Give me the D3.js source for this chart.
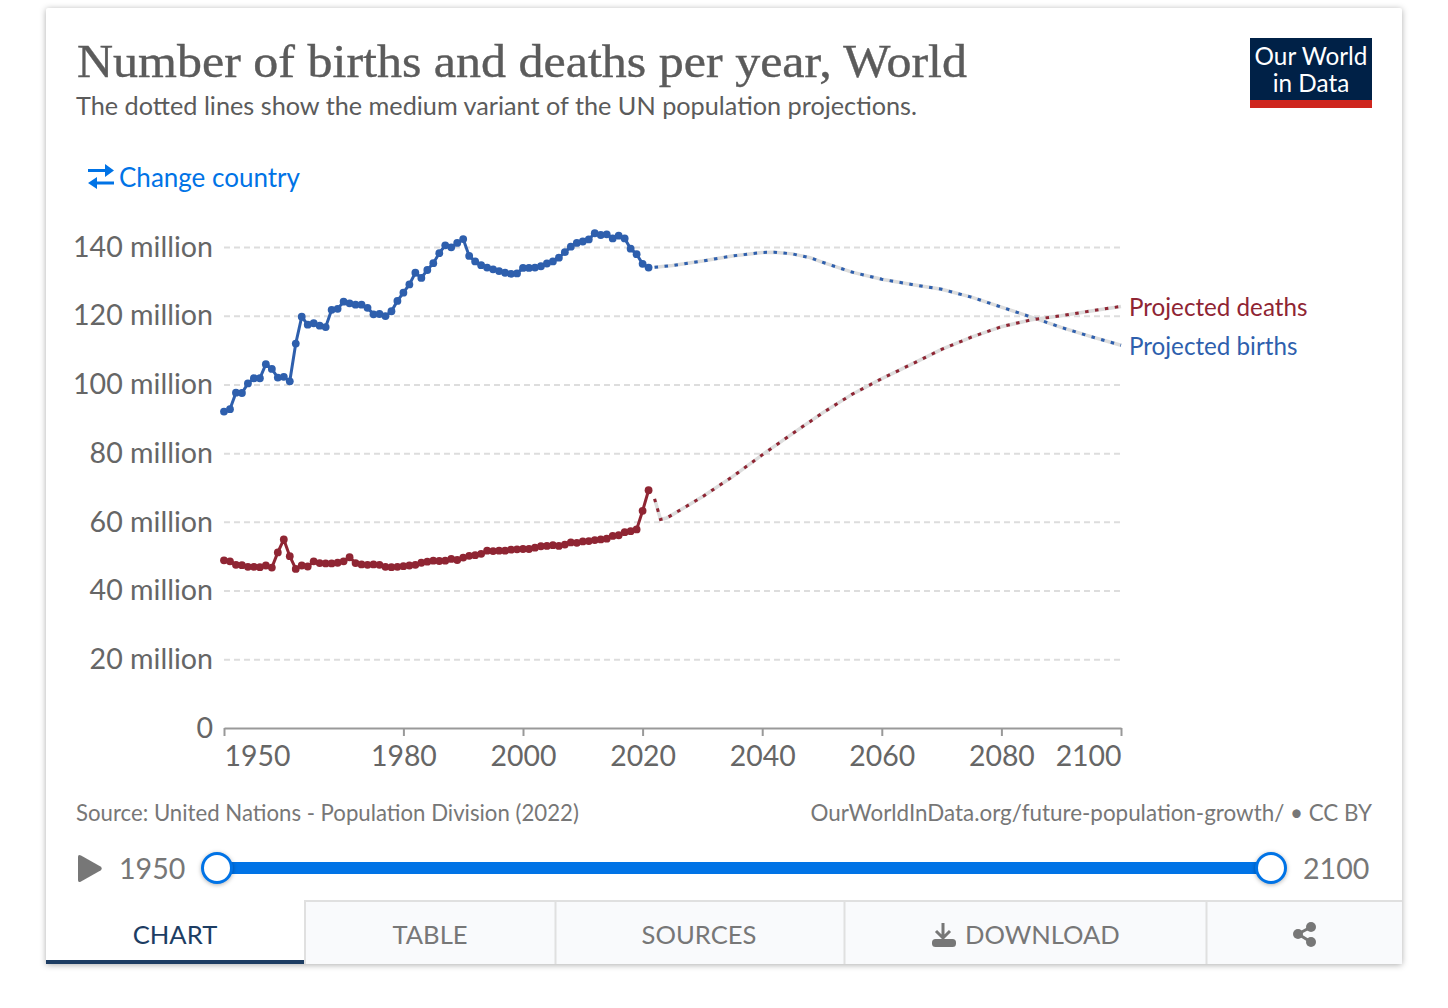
<!DOCTYPE html>
<html>
<head>
<meta charset="utf-8">
<script src="https://cdn.jsdelivr.net/npm/d3@7"></script>
<style>
  html, body { margin: 0; padding: 0; background: #fff; }
  svg { display: block; }
  text { font-family: Lato, "Open Sans", sans-serif; }
</style>
</head>
<body>
<div id="chart-widget"></div>
<script>
// births and deaths per year in millions
const firstYear = 1950;
const birthsHistoric = [
  92.1, 92.8, 97.6, 97.5, 100.3, 101.8, 101.8, 105.9, 104.5, 102.0,
  102.2, 100.9, 111.9, 119.7, 117.4, 117.8, 117.1, 116.7, 121.7, 122.0,
  124.1, 123.6, 123.2, 123.2, 122.3, 120.4, 120.5, 119.9, 121.3, 124.3,
  126.7, 129.1, 132.5, 131.0, 133.3, 135.3, 138.2, 140.5, 139.9, 141.2,
  142.3, 137.4, 135.8, 134.7, 134.0, 133.5, 133.0, 132.5, 132.2, 132.3,
  133.9, 133.9, 134.0, 134.4, 135.2, 135.8, 136.9, 138.5, 140.1, 141.2,
  141.6, 142.2, 144.0, 143.5, 143.7, 142.5, 143.3, 142.5, 139.5, 137.9,
  135.1, 134.0
];
const deathsHistoric = [
  48.8, 48.5, 47.5, 47.4, 46.9, 46.9, 46.8, 47.3, 46.7, 51.1,
  54.9, 50.0, 46.3, 47.3, 47.0, 48.5, 48.0, 47.9, 47.9, 48.1,
  48.5, 49.7, 48.0, 47.6, 47.5, 47.6, 47.5, 46.9, 46.8, 46.9,
  47.1, 47.3, 47.5, 48.1, 48.4, 48.7, 48.6, 48.7, 49.2, 48.9,
  49.6, 50.1, 50.3, 50.7, 51.6, 51.5, 51.6, 51.6, 51.9, 52.0,
  52.1, 52.1, 52.5, 52.9, 53.0, 53.2, 53.0, 53.4, 54.0, 53.9,
  54.3, 54.4, 54.7, 54.9, 55.1, 55.9, 56.1, 57.0, 57.3, 57.8,
  63.2, 69.2
];
const birthsProjYears = [2022, 2025, 2030, 2035, 2040, 2042, 2045, 2048, 2050, 2055, 2060, 2065, 2070, 2075, 2080, 2085, 2090, 2095, 2100];
const birthsProjected = [134.1, 134.6, 135.9, 137.4, 138.4, 138.5, 138.0, 136.9, 135.6, 132.7, 130.6, 129.1, 127.7, 125.4, 122.5, 119.6, 116.6, 113.9, 111.4];
const deathsProjYears = [2022, 2023, 2024, 2025, 2030, 2035, 2040, 2045, 2050, 2055, 2060, 2065, 2070, 2075, 2080, 2085, 2090, 2095, 2100];
const deathsProjected = [66.7, 60.7, 61.1, 62.1, 67.3, 73.1, 79.5, 85.6, 91.6, 97.1, 101.7, 105.9, 110.2, 113.8, 116.8, 118.8, 120.0, 121.4, 122.7];

const yTicks = [0, 20, 40, 60, 80, 100, 120, 140];
const xTicks = [1950, 1980, 2000, 2020, 2040, 2060, 2080, 2100];
const tabs = [
  {label: 'TABLE', x0: 304, x1: 555},
  {label: 'SOURCES', x0: 555, x1: 844},
  {label: 'DOWNLOAD', x0: 844, x1: 1206},
  {label: '', x0: 1206, x1: 1402}
];

const BLUE = '#2e5fad';
const RED = '#8f2533';
const GREY = '#666';
const LINK = '#0073e6';

const svg = d3.select('#chart-widget').append('svg')
  .attr('width', 1448)
  .attr('height', 1008);

// card
svg.append('rect')
  .attr('x', 46).attr('y', 8)
  .attr('width', 1356).attr('height', 956)
  .attr('rx', 2)
  .attr('fill', '#fff')
  .style('filter', 'drop-shadow(0 1px 3px rgba(0,0,0,0.32))');

// header
svg.append('text')
  .attr('x', 77).attr('y', 77)
  .attr('textLength', 890).attr('lengthAdjust', 'spacingAndGlyphs')
  .style('font-family', '"Liberation Serif", "DejaVu Serif", serif')
  .style('font-size', '47px')
  .attr('fill', '#5b5b5b')
  .attr('stroke', '#5b5b5b').attr('stroke-width', 0.4)
  .text('Number of births and deaths per year, World');

svg.append('text')
  .attr('x', 76).attr('y', 115)
  .attr('textLength', 841).attr('lengthAdjust', 'spacingAndGlyphs')
  .style('font-size', '25px')
  .attr('fill', '#5b5b5b')
  .text('The dotted lines show the medium variant of the UN population projections.');

// logo
svg.append('rect').attr('x', 1250).attr('y', 38).attr('width', 122).attr('height', 62).attr('fill', '#002147');
svg.append('rect').attr('x', 1250).attr('y', 100).attr('width', 122).attr('height', 8).attr('fill', '#ce261e');
svg.append('text').attr('x', 1311).attr('y', 65).attr('text-anchor', 'middle')
  .style('font-size', '24.3px').attr('fill', '#fff').text('Our World');
svg.append('text').attr('x', 1311).attr('y', 92).attr('text-anchor', 'middle')
  .style('font-size', '24.3px').attr('fill', '#fff').text('in Data');

// change country
svg.append('path')
  .attr('d', 'M88 169H105V164L114 170.5L105 177V172H88ZM114 181.5H97V177L88 183L97 189V184.5H114Z')
  .attr('fill', LINK);
svg.append('text')
  .attr('x', 119).attr('y', 187)
  .style('font-size', '26px')
  .attr('fill', LINK)
  .text('Change country');

// scales
const x = d3.scaleLinear().domain([1950, 2100]).range([224, 1121]);
const y = d3.scaleLinear().domain([0, 140]).range([728, 247]);

// y axis with grid
const yAxis = svg.append('g')
  .attr('transform', 'translate(224,0)')
  .call(d3.axisLeft(y)
    .tickValues(yTicks)
    .tickSize(-897)
    .tickPadding(11)
    .tickFormat(d => d === 0 ? '0' : d + ' million'));
yAxis.select('.domain').remove();
yAxis.selectAll('.tick line')
  .attr('stroke', '#ddd')
  .attr('stroke-width', 2)
  .attr('stroke-dasharray', '6,4')
  .filter(d => d === 0).remove();
yAxis.selectAll('text')
  .style('font-family', 'Lato')
  .style('font-size', '28.6px')
  .attr('fill', GREY);

// x axis
const xAxis = svg.append('g')
  .attr('transform', 'translate(0,728)')
  .call(d3.axisBottom(x)
    .tickValues(xTicks)
    .tickSize(8)
    .tickSizeOuter(0)
    .tickPadding(10)
    .tickFormat(d3.format('d')));
xAxis.select('.domain').attr('stroke', '#999').attr('stroke-width', 2);
xAxis.selectAll('.tick line').attr('stroke', '#999').attr('stroke-width', 2);
xAxis.selectAll('text')
  .style('font-family', 'Lato')
  .style('font-size', '28.4px')
  .attr('fill', GREY)
  .attr('text-anchor', d => d === 1950 ? 'start' : d === 2100 ? 'end' : 'middle');

// lines
const line = d3.line().x(d => x(d.year)).y(d => y(d.value));
const hist = arr => arr.map((value, i) => ({year: firstYear + i, value}));
const proj = (years, vals) => years.map((year, i) => ({year, value: vals[i]}));

function drawProjected(data, color) {
  svg.append('path').datum(data)
    .attr('d', line).attr('fill', 'none')
    .attr('stroke', '#ddd').attr('stroke-width', 3.5);
  svg.append('path').datum(data)
    .attr('d', line).attr('fill', 'none')
    .attr('stroke', color).attr('stroke-width', 3)
    .attr('stroke-dasharray', '3.5,6.5');
}

function drawHistoric(data, color) {
  svg.append('path').datum(data)
    .attr('d', line).attr('fill', 'none')
    .attr('stroke', color).attr('stroke-width', 3);
  svg.append('g').selectAll('circle')
    .data(data).enter().append('circle')
    .attr('cx', d => x(d.year))
    .attr('cy', d => y(d.value))
    .attr('r', 3.9)
    .attr('fill', color);
}

drawProjected(proj(birthsProjYears, birthsProjected), BLUE);
drawProjected(proj(deathsProjYears, deathsProjected), RED);
drawHistoric(hist(birthsHistoric), BLUE);
drawHistoric(hist(deathsHistoric), RED);

// line labels
svg.append('text').attr('x', 1129).attr('y', 316)
  .style('font-size', '24.2px').attr('fill', RED).text('Projected deaths');
svg.append('text').attr('x', 1129).attr('y', 355)
  .style('font-size', '24.2px').attr('fill', BLUE).text('Projected births');

// footer
svg.append('text').attr('x', 76).attr('y', 821)
  .style('font-size', '22.2px').attr('fill', '#777')
  .text('Source: United Nations - Population Division (2022)');
svg.append('text').attr('x', 1372).attr('y', 821).attr('text-anchor', 'end')
  .style('font-size', '22.4px').attr('fill', '#777')
  .text('OurWorldInData.org/future-population-growth/ • CC BY');

// timeline
svg.append('path')
  .attr('d', 'M81 855.5L100.5 866.5Q103 868.5 100.5 870.5L81 881.5Q78 883 78 880V857Q78 854 81 855.5Z')
  .attr('fill', '#777');
svg.append('text').attr('x', 119).attr('y', 879)
  .style('font-size', '28.6px').attr('fill', '#777').text('1950');
svg.append('text').attr('x', 1303).attr('y', 879)
  .style('font-size', '28.6px').attr('fill', '#777').text('2100');
svg.append('rect').attr('x', 217).attr('y', 862).attr('width', 1054).attr('height', 12).attr('fill', LINK);
svg.selectAll('.thumb').data([217, 1271]).enter().append('circle')
  .attr('class', 'thumb')
  .attr('cx', d => d).attr('cy', 868).attr('r', 14.5)
  .attr('fill', '#fff').attr('stroke', LINK).attr('stroke-width', 3)
  .style('filter', 'drop-shadow(0 1px 2px rgba(0,0,0,0.3))');

// tabs
svg.selectAll('.tab').data(tabs).enter().append('rect')
  .attr('class', 'tab')
  .attr('x', d => d.x0 + 1).attr('y', 902)
  .attr('width', d => d.x1 - d.x0 - 1).attr('height', 62)
  .attr('fill', '#f9fafc');
svg.append('path')
  .attr('d', 'M305 964V901H1402M555.5 901V964M844.5 901V964M1206.5 901V964')
  .attr('fill', 'none').attr('stroke', '#e0e0e0').attr('stroke-width', 2);
svg.append('rect').attr('x', 46).attr('y', 960).attr('width', 258).attr('height', 4).attr('fill', '#1d3d63');
svg.append('text').attr('x', 175).attr('y', 944).attr('text-anchor', 'middle')
  .style('font-size', '25.6px').attr('fill', '#1d3d63').text('CHART');
svg.append('text').attr('x', 430).attr('y', 944).attr('text-anchor', 'middle')
  .style('font-size', '25.6px').attr('fill', '#777').text('TABLE');
svg.append('text').attr('x', 699).attr('y', 944).attr('text-anchor', 'middle')
  .style('font-size', '25.6px').attr('fill', '#777').text('SOURCES');
svg.append('text').attr('x', 965).attr('y', 944)
  .style('font-size', '25.6px').attr('fill', '#777').text('DOWNLOAD');

// download icon
svg.append('path')
  .attr('d', 'M943 923v14M936 931l7 7 7-7')
  .attr('fill', 'none').attr('stroke', '#777').attr('stroke-width', 3);
svg.append('rect').attr('x', 932).attr('y', 939).attr('width', 24).attr('height', 8).attr('rx', 3.5).attr('fill', '#777');

// share icon
svg.append('path')
  .attr('d', 'M1298 934L1311 927M1298 934L1311 942')
  .attr('stroke', '#777').attr('stroke-width', 3);
svg.selectAll('.share').data([[1298, 934], [1311, 927], [1311, 942]]).enter().append('circle')
  .attr('class', 'share')
  .attr('cx', d => d[0]).attr('cy', d => d[1]).attr('r', 5)
  .attr('fill', '#777');
</script>
</body>
</html>
